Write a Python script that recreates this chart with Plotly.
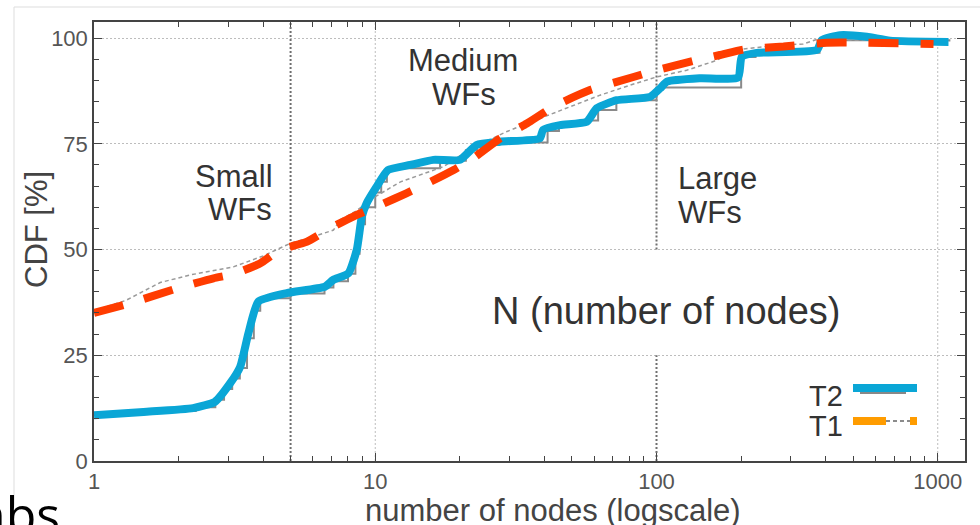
import numpy as np
import plotly.graph_objects as go

# ---------------- data ----------------
t2_x = [1, 1.5, 2.25, 2.69, 3.05, 3.31, 3.54, 3.84, 4.85, 6.62, 7.08, 8.03, 8.6, 8.96, 9.33,
        10.1, 11.1, 13.3, 16.1, 20, 22.9, 27.8, 38.5, 39.5, 45.4, 56.5, 61.3, 72.2, 94.9,
        103, 109, 143, 195, 201, 227, 372, 387, 450, 560, 677, 1092]
t2_y = [10.8, 11.6, 12.5, 14, 18.4, 22.3, 30.2, 37.7, 39.7, 41.2, 42.8, 44.4, 50, 57.8, 61,
        64.8, 68.8, 70, 71.2, 71.2, 74.7, 75.5, 76.3, 78.3, 79.4, 80.2, 83.4, 85.3, 86.1,
        88.1, 89.7, 90.5, 90.7, 95.6, 96.5, 97.2, 99.5, 100.7, 100.3, 99.4, 99.1]

t2_ref_x = [1, 1.5, 2.3, 2.7, 2.9, 3.1, 3.3, 3.5, 3.7, 3.9, 5, 6.6, 7.1, 8, 8.5, 8.8, 9.2, 10,
            10.5, 11, 17, 21, 23, 28, 41, 45, 56, 62, 72, 100, 200, 225, 380, 420, 1100]
t2_ref_y = [11, 11.8, 12.7, 14.5, 17, 19.5, 22, 29, 35.5, 38.5, 39.6, 41, 42.5, 44.3, 49, 56,
            60, 63.5, 66, 69.2, 71, 73.5, 75, 75.3, 78, 79.5, 80.5, 83, 85.3, 88.3, 95.5, 96.5,
            99.5, 99.5, 99.2]

t1_x = [1, 1.34, 1.97, 2.66, 3.13, 3.89, 4.58, 5.7, 6.9, 8.35, 10.4, 12.9, 15.7, 19, 22.3,
        27.8, 34.6, 43, 58, 82.8, 100, 139, 168, 204, 283, 403, 560, 966]
t1_y = [35, 37.3, 40.8, 43.2, 44.2, 46.7, 49.9, 51.8, 55, 57.8, 60.5, 63.3, 66, 68.8, 71.6,
        76.3, 79.8, 83.8, 87.7, 90.8, 92.4, 94.8, 96, 97.3, 98, 98.9, 98.9, 98.6]

t1_ref_x = [1, 1.3, 1.72, 2.2, 3.13, 4, 5, 6, 7.1, 7.5, 8.5, 10, 12.3, 17.5, 22, 29.4, 38.5,
            50, 63, 80, 100, 128, 160, 198, 260, 332, 372, 500, 1000]
t1_ref_y = [35.5, 38, 42.2, 44, 45.9, 48.5, 51.5, 53, 54.6, 57, 59, 62.5, 66, 69.6, 74, 77.9,
            81, 84, 86.5, 88.8, 90.8, 92.4, 94.5, 97.3, 98.2, 98.6, 99.7, 99.5, 99.5]

class_bounds = [5, 100]          # small/medium and medium/large boundaries
decade_grid = [10, 1000]
x_major = [1, 10, 100, 1000]
y_major = [0, 25, 50, 75, 100]
X_MAX = 1250
Y_MAX = 103.8

# ---------------- layout geometry (pixels) ----------------
W, H = 980, 525
L, R, T, B = 94, 965, 22, 461


def px(x):
    return (x - L) / (R - L)


def py(y):
    return (B - y) / (B - T)


BLUE = "#0aa6d6"
RED = "#ff3c00"
ORANGE = "#ff9c00"
TXT = "#333333"

fig = go.Figure()

# vertical dotted reference lines
for v in decade_grid:
    fig.add_trace(go.Scatter(x=[v, v], y=[0, Y_MAX], mode="lines",
                             line=dict(color="#bdbdbd", width=1, dash="2px,2px"),
                             showlegend=False, hoverinfo="skip"))
fig.add_trace(go.Scatter(x=[class_bounds[0], class_bounds[0]], y=[0, Y_MAX], mode="lines",
                         line=dict(color="#6f6f6f", width=2, dash="2px,2px"),
                         showlegend=False, hoverinfo="skip"))
fig.add_trace(go.Scatter(x=[class_bounds[1], class_bounds[1], None, class_bounds[1], class_bounds[1]],
                         y=[0, 25, None, 50, Y_MAX], mode="lines",
                         line=dict(color="#6f6f6f", width=2, dash="2px,2px"),
                         showlegend=False, hoverinfo="skip", connectgaps=False))

# reference (gray) curves
fig.add_trace(go.Scatter(x=t2_ref_x, y=t2_ref_y, mode="lines", line_shape="hv",
                         line=dict(color="#8a8a8a", width=2), showlegend=False))
fig.add_trace(go.Scatter(x=t1_ref_x, y=t1_ref_y, mode="lines",
                         line=dict(color="#9a9a9a", width=1.5, dash="4px,3px"), showlegend=False))
# main curves
fig.add_trace(go.Scatter(x=t2_x, y=t2_y, mode="lines", name="T2", line_shape="spline",
                         line=dict(color=BLUE, width=8, smoothing=0.5), showlegend=False))
fig.add_trace(go.Scatter(x=t1_x, y=t1_y, mode="lines", name="T1", line_shape="spline",
                         line=dict(color=RED, width=8, dash="30px,22px", smoothing=0.5),
                         showlegend=False))

minor_x = [m * 10 ** k for k in range(0, 4) for m in range(2, 10) if m * 10 ** k < X_MAX]

fig.update_xaxes(type="log", range=[0, np.log10(X_MAX)],
                 tickmode="array", tickvals=x_major, ticktext=[str(v) for v in x_major],
                 ticks="inside", ticklen=8, tickcolor="#444", tickwidth=1,
                 minor=dict(tickmode="array", tickvals=minor_x, ticks="inside", ticklen=5,
                            tickcolor="#444", tickwidth=1, showgrid=False),
                 showgrid=False, zeroline=False,
                 showline=True, linecolor="#444", linewidth=1.5, mirror="ticks",
                 tickfont=dict(family="Liberation Sans", size=22, color="#555"))
fig.update_yaxes(range=[0, Y_MAX], tickmode="array", tickvals=y_major,
                 ticks="inside", ticklen=8, tickcolor="#444", tickwidth=1,
                 minor=dict(dtick=5, ticks="inside", ticklen=5, tickcolor="#444",
                            tickwidth=1, showgrid=False),
                 showgrid=True, gridcolor="#bdbdbd", griddash="2px,2px", gridwidth=1,
                 zeroline=False,
                 showline=True, linecolor="#444", linewidth=1.5, mirror="ticks",
                 tickfont=dict(family="Liberation Sans", size=22, color="#555"))

annots = []


def text(s, x, y, size, xanchor="center", color=TXT, angle=0, family="Liberation Sans"):
    annots.append(dict(text=s, x=px(x), y=py(y), xref="paper", yref="paper",
                       xanchor=xanchor, yanchor="middle", showarrow=False, textangle=angle,
                       font=dict(family=family, size=size, color=color)))


text("Small", 234, 176, 31)
text("WFs", 240, 209, 31)
text("Medium", 463, 60, 31)
text("WFs", 464, 95, 31)
text("Large", 676, 178, 31, xanchor="left")
text("WFs", 676, 212, 31, xanchor="left")
text("N (number of nodes)", 666, 311, 38)
text("T2", 845, 396, 29, xanchor="right")
text("T1", 845, 426, 29, xanchor="right")
text("CDF [%]", 36, 230, 31, angle=-90, color="#444")
text("number of nodes (logscale)", 553, 510, 31, color="#444")
text("nbs", 62, 514, 50, xanchor="right", color="#000", family="Open Sans")

shapes = [
    # screenshot frame lines
    dict(type="line", xref="paper", yref="paper", x0=px(14), x1=px(980), y0=py(7), y1=py(7),
         line=dict(color="#dddddd", width=1), layer="below"),
    dict(type="line", xref="paper", yref="paper", x0=px(14), x1=px(14), y0=py(7), y1=py(495),
         line=dict(color="#dddddd", width=1), layer="below"),
    # legend samples
    dict(type="line", xref="paper", yref="paper", x0=px(860), x1=px(906), y0=py(393), y1=py(393),
         line=dict(color="#888", width=2)),
    dict(type="line", xref="paper", yref="paper", x0=px(853), x1=px(917), y0=py(388), y1=py(388),
         line=dict(color=BLUE, width=8)),
    dict(type="line", xref="paper", yref="paper", x0=px(853), x1=px(886), y0=py(421), y1=py(421),
         line=dict(color=ORANGE, width=8)),
    dict(type="line", xref="paper", yref="paper", x0=px(886), x1=px(910), y0=py(421), y1=py(421),
         line=dict(color="#666", width=1.5, dash="4px,3px")),
    dict(type="rect", xref="paper", yref="paper", x0=px(910), x1=px(917), y0=py(425), y1=py(417),
         line=dict(width=0), fillcolor=ORANGE),
]

fig.update_layout(width=W, height=H, margin=dict(l=L, r=W - R, t=T, b=H - B),
                  paper_bgcolor="white", plot_bgcolor="white",
                  annotations=annots, shapes=shapes, showlegend=False)

fig.write_html("out.html")
